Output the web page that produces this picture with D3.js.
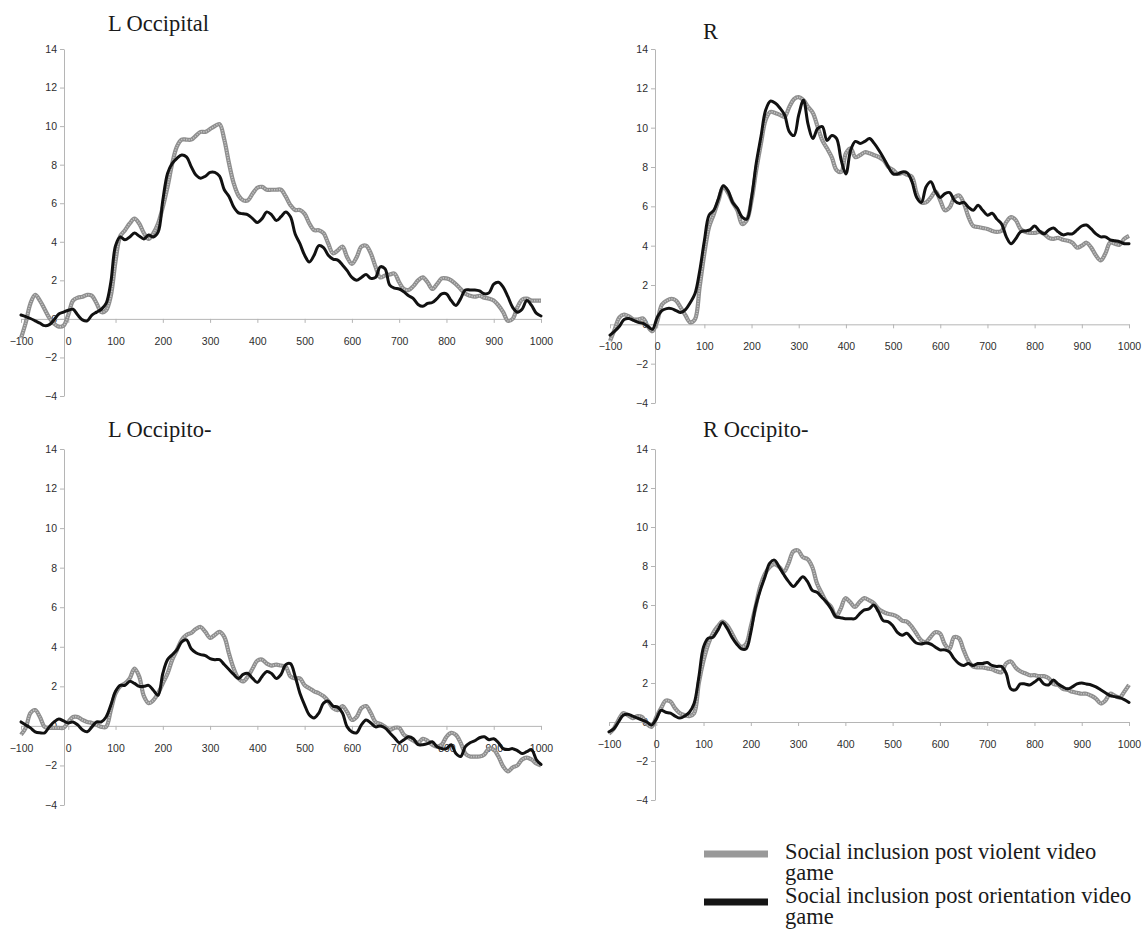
<!DOCTYPE html>
<html>
<head>
<meta charset="utf-8">
<script src="https://cdn.jsdelivr.net/npm/d3@7"></script>
<style>
  body { margin: 0; background: #fff; }
  svg { display: block; }
</style>
</head>
<body>
<svg id="chart" width="1144" height="934"></svg>
<script>
// sample times (ms)
const times = [
  -100, -90, -80, -70, -60, -50, -40, -30, -20, -10,
  0, 10, 20, 30, 40, 50, 60, 70, 80, 90,
  100, 110, 120, 130, 140, 150, 160, 170, 180, 190,
  200, 210, 220, 230, 240, 250, 260, 270, 280, 290,
  300, 310, 320, 330, 340, 350, 360, 370, 380, 390,
  400, 410, 420, 430, 440, 450, 460, 470, 480, 490,
  500, 510, 520, 530, 540, 550, 560, 570, 580, 590,
  600, 610, 620, 630, 640, 650, 660, 670, 680, 690,
  700, 710, 720, 730, 740, 750, 760, 770, 780, 790,
  800, 810, 820, 830, 840, 850, 860, 870, 880, 890,
  900, 910, 920, 930, 940, 950, 960, 970, 980, 990,
  1000
];

const xTicks = [-100, 0, 100, 200, 300, 400, 500, 600, 700, 800, 900, 1000];
const yTicks = [-4, -2, 0, 2, 4, 6, 8, 10, 12, 14];

const panelTitles = ['L Occipital', 'R', 'L Occipito-', 'R Occipito-'];
const legendLines = [
  ['Social inclusion post violent video', 'game'],
  ['Social inclusion post orientation video', 'game']
];

// L Occipital
const lOccViolent = [
  -1.0, -0.2, 0.8, 1.25, 0.95, 0.5, 0.05, -0.25, -0.4, -0.35,
  0.2, 0.95, 1.1, 1.15, 1.25, 1.2, 0.8, 0.35, 0.45, 1.2,
  3.0, 4.3, 4.6, 4.95, 5.2, 4.95, 4.45, 4.15, 4.45, 4.95,
  5.8, 6.85, 8.07, 8.95, 9.3, 9.3, 9.3, 9.5, 9.7, 9.7,
  9.85, 10.0, 10.1, 9.3, 8.07, 7.03, 6.4, 6.15, 6.15, 6.5,
  6.8, 6.85, 6.7, 6.7, 6.7, 6.7, 6.35, 5.9, 5.65, 5.65,
  5.45, 4.95, 4.6, 4.6, 4.45, 3.9, 3.4, 3.55, 3.75, 3.2,
  2.85, 3.2, 3.75, 3.8, 3.4, 2.7, 2.15, 2.25, 2.3, 2.35,
  1.9, 1.55, 1.5, 1.7, 2.0, 2.15, 1.9, 1.55, 1.8, 2.1,
  2.1, 2.0, 1.8, 1.55, 1.3, 1.2, 1.15, 1.2, 1.1, 1.05,
  0.95, 0.7, 0.35, -0.1, 0.0, 0.6, 1.0, 1.05, 0.95, 0.95,
  0.95
];
const lOccOrientation = [
  0.2, 0.12, 0.02, -0.1, -0.22, -0.35, -0.3, -0.05, 0.25, 0.35,
  0.45, 0.5, 0.2, -0.05, -0.1, 0.2, 0.35, 0.5, 0.8, 1.9,
  3.8, 4.25, 4.1, 4.25, 4.45, 4.3, 4.15, 4.35, 4.25, 4.5,
  6.15, 7.55, 8.07, 8.33, 8.5, 8.4, 7.9, 7.46, 7.3, 7.4,
  7.6, 7.6, 7.4, 6.7, 6.35, 5.8, 5.5, 5.45, 5.4, 5.2,
  5.0, 5.2, 5.55, 5.4, 5.1, 5.3, 5.55, 5.3, 4.4, 3.9,
  3.3, 2.95, 3.3, 3.8, 3.7, 3.3, 3.1, 3.05, 2.8, 2.5,
  2.15, 2.0, 2.15, 2.3, 2.1, 2.15, 2.7, 2.6, 1.75, 1.6,
  1.55, 1.4, 1.2, 1.05, 0.75, 0.65, 0.8, 0.85, 1.05, 1.3,
  1.3, 0.95, 0.7, 1.05, 1.5, 1.5, 1.5, 1.45, 1.3, 1.35,
  1.8, 1.9, 1.65, 1.15, 0.6, 0.35, 0.5, 0.95, 0.7, 0.3,
  0.15
];

// R
const rViolent = [
  -0.85, -0.25, 0.35, 0.5, 0.4, 0.25, 0.25, 0.3, -0.1, -0.35,
  0.15, 1.0, 1.2, 1.3, 1.2, 0.85, 0.45, 0.1, 0.25, 1.9,
  3.6, 4.95, 5.6, 6.3, 7.0, 6.7, 6.2, 5.8, 5.1, 5.3,
  6.3, 7.85, 9.2, 10.4, 10.8, 10.75, 10.65, 10.55, 11.05, 11.45,
  11.55, 11.4, 11.05, 10.75, 10.05, 9.35, 8.95, 8.5, 7.85, 7.75,
  8.7, 8.95, 8.5, 8.6, 8.75, 8.7, 8.6, 8.5, 8.35, 8.0,
  7.85, 7.65, 7.7, 7.6, 7.5, 6.65, 6.2, 6.2, 6.45, 6.75,
  6.3, 5.8, 5.95, 6.45, 6.55, 6.15, 5.45, 5.0, 4.95, 4.9,
  4.85, 4.75, 4.7, 4.75, 5.2, 5.45, 5.3, 4.85, 4.7, 4.65,
  4.65, 4.7, 4.6, 4.4, 4.35, 4.4, 4.3, 4.25, 4.15, 3.9,
  4.0, 4.15, 3.9, 3.5, 3.25, 3.6, 4.15, 4.1, 4.05, 4.35,
  4.5
];
const rOrientation = [
  -0.55, -0.35, -0.1, 0.25, 0.3, 0.2, 0.1, 0.05, -0.1, -0.25,
  0.35, 0.7, 0.8, 0.8, 0.7, 0.6, 0.75, 1.1, 1.55, 2.7,
  4.25, 5.55, 5.8, 6.4, 7.05, 6.8, 6.2, 5.9, 5.45, 5.35,
  6.45, 8.2, 9.55, 10.9, 11.35, 11.25, 11.0, 10.65, 9.8, 9.6,
  10.65, 11.4, 10.15, 9.45, 9.95, 10.05, 9.35, 9.6, 9.45, 8.35,
  7.65, 8.85, 9.3, 9.2, 9.3, 9.45, 9.2, 8.85, 8.45, 8.0,
  7.65, 7.65, 7.75, 7.7, 7.25, 6.45, 6.2, 7.0, 7.25, 6.75,
  6.45, 6.65, 6.7, 6.3, 6.15, 6.2, 5.95, 5.8, 6.05, 5.8,
  5.55, 5.65, 5.35, 5.1, 4.45, 4.1, 4.35, 4.7, 4.75, 4.8,
  5.0, 4.75, 4.6, 4.8, 4.9, 4.7, 4.55, 4.6, 4.6, 4.8,
  5.0, 5.05, 4.85, 4.6, 4.45, 4.45, 4.3, 4.25, 4.2, 4.1,
  4.1
];

// L Occipito-
const lOccitoViolent = [
  -0.45, -0.1, 0.65, 0.8, 0.45, -0.05, -0.1, -0.1, -0.1, -0.1,
  0.2, 0.45, 0.45, 0.3, 0.2, 0.15, 0.05, -0.05, -0.05, 0.8,
  1.65, 2.0, 2.15, 2.4, 2.9, 2.5, 1.5, 1.15, 1.3, 1.65,
  2.15, 2.65, 3.35, 3.85, 4.35, 4.6, 4.7, 4.9, 5.0, 4.75,
  4.45, 4.6, 4.75, 4.5, 3.65, 2.9, 2.4, 2.25, 2.5, 2.9,
  3.3, 3.35, 3.15, 3.05, 3.1, 3.05, 3.0, 2.5, 2.4, 2.4,
  2.05, 1.9, 1.75, 1.65, 1.5, 1.25, 0.9, 0.8, 1.0, 0.7,
  0.3, 0.45, 0.9, 1.0, 0.65, 0.2, 0.1, -0.05, -0.2, -0.1,
  -0.1, -0.45, -0.6, -0.75, -0.85, -0.65, -0.75, -0.95, -1.05, -0.95,
  -0.55, -0.35, -0.45, -0.85, -1.4, -1.55, -1.55, -1.55, -1.45, -1.15,
  -1.2, -1.55, -2.05, -2.3, -2.1, -2.0, -1.7, -1.6, -1.7, -1.9,
  -2.0
];
const lOccitoOrientation = [
  0.2, 0.05, -0.1, -0.3, -0.35, -0.35, -0.05, 0.2, 0.35, 0.25,
  0.15, 0.2, 0.05, -0.2, -0.3, -0.05, 0.2, 0.2, 0.45, 1.05,
  1.75, 2.05, 2.05, 2.25, 2.15, 2.0, 2.0, 2.05, 1.8, 1.55,
  2.65, 3.35, 3.6, 3.85, 4.25, 4.35, 3.9, 3.7, 3.6, 3.55,
  3.4, 3.35, 3.35, 3.1, 2.85, 2.6, 2.4, 2.6, 2.65, 2.4,
  2.2, 2.5, 2.75, 2.65, 2.4, 2.6, 3.1, 3.15, 2.5, 1.65,
  1.05, 0.55, 0.4, 0.65, 1.15, 1.25, 1.0, 0.95, 0.65, -0.05,
  -0.3, -0.35, 0.05, 0.3, 0.15, -0.05, 0.0, -0.1, -0.35, -0.6,
  -0.85, -0.7, -0.55, -0.65, -0.95, -0.95, -0.9, -0.8, -1.05, -1.15,
  -1.15, -0.95, -1.4, -1.55, -1.05, -0.85, -0.75, -0.6, -0.55, -0.7,
  -0.65, -0.85, -1.15, -1.2, -1.15, -1.25, -1.4, -1.3, -1.2, -1.7,
  -1.95
];

// R Occipito-
const rOccitoViolent = [
  -0.6, -0.35, 0.1, 0.45, 0.35, 0.2, 0.3, 0.25, -0.1, -0.25,
  0.25, 0.7, 1.1, 1.05, 0.7, 0.45, 0.35, 0.3, 0.45, 2.0,
  3.15, 4.0, 4.55, 4.9, 5.15, 4.95, 4.55, 4.1, 3.85, 4.0,
  4.9, 5.9, 6.95, 7.6, 7.95, 8.1, 7.95, 7.7, 8.15, 8.75,
  8.8, 8.45, 8.35, 7.95, 7.1, 6.6, 6.15, 5.9, 5.4, 5.8,
  6.35, 6.15, 5.9, 6.15, 6.35, 6.25, 6.1, 5.8, 5.65, 5.55,
  5.5, 5.4, 5.2, 5.15, 4.9, 4.55, 4.2, 4.1, 4.35, 4.6,
  4.55, 4.0, 3.75, 4.35, 4.3, 3.7, 3.15, 2.85, 2.8, 2.8,
  2.75, 2.7, 2.6, 2.55, 3.0, 3.1, 2.8, 2.6, 2.5, 2.4,
  2.4, 2.35, 2.35, 2.25, 1.95, 1.9, 1.7, 1.65, 1.55, 1.5,
  1.45, 1.45, 1.35, 1.2, 0.95, 1.1, 1.45, 1.35, 1.25, 1.55,
  1.9
];
const rOccitoOrientation = [
  -0.5, -0.35, 0.0, 0.35, 0.4, 0.3, 0.2, 0.1, 0.0, -0.15,
  0.15, 0.6, 0.5, 0.45, 0.3, 0.2, 0.3, 0.5, 0.95, 2.3,
  3.85, 4.3, 4.35, 4.7, 5.1, 4.8, 4.35, 4.0, 3.75, 3.75,
  4.6, 5.9, 6.75, 7.45, 8.15, 8.3, 7.95, 7.55, 7.2, 6.95,
  7.2, 7.45, 7.2, 6.75, 6.65, 6.4, 6.15, 5.8, 5.4, 5.35,
  5.3, 5.3, 5.3, 5.55, 5.75, 5.8, 6.0, 5.65, 5.2, 5.15,
  4.95, 4.6, 4.45, 4.55, 4.3, 4.05, 4.0, 4.05, 4.0, 3.85,
  3.7, 3.7, 3.6, 3.25, 3.0, 2.9, 3.0, 2.9, 3.0, 3.0,
  3.05, 2.9, 2.85, 2.85, 2.5, 1.7, 1.65, 1.95, 1.95, 1.9,
  2.05, 2.2, 1.95, 1.9, 2.15, 1.95, 1.8, 1.7, 1.8, 1.95,
  2.0, 1.95, 1.9, 1.8, 1.65, 1.5, 1.35, 1.3, 1.25, 1.15,
  1.0
];

const violentSeries = [lOccViolent, rViolent, lOccitoViolent, rOccitoViolent];
const orientationSeries = [lOccOrientation, rOrientation, lOccitoOrientation, rOccitoOrientation];

// panel placement on the page
const layout = [
  { x0: 21, x1: 541, yTop: 49, yBot: 396, axisX: 64, titleX: 108, titleY: 31 },
  { x0: 610, x1: 1129, yTop: 49, yBot: 403, axisX: 655, titleX: 703, titleY: 39 },
  { x0: 21, x1: 541, yTop: 449, yBot: 805, axisX: 64, titleX: 108, titleY: 437 },
  { x0: 609, x1: 1129, yTop: 449, yBot: 800, axisX: 655, titleX: 703, titleY: 437 }
];

const grayBase = '#8e8e8e';
const grayDots = '#c6c6c6';
const black = '#111';
const axisColor = '#b5b5b5';
const tickFont = "'Liberation Sans', Arial, sans-serif";
const serifFont = "'Liberation Serif', 'Times New Roman', serif";

const svg = d3.select('#chart');
svg.append('rect').attr('width', 1144).attr('height', 934).attr('fill', '#fff');

layout.forEach((p, i) => {
  const x = d3.scaleLinear().domain([-100, 1000]).range([p.x0, p.x1]);
  const y = d3.scaleLinear().domain([-4, 14]).range([p.yBot, p.yTop]);
  const g = svg.append('g');

  g.append('text')
    .attr('x', p.titleX)
    .attr('y', p.titleY)
    .attr('font-family', serifFont)
    .attr('font-size', 22.5)
    .attr('fill', '#1a1a1a')
    .text(panelTitles[i]);

  const yAxis = g.append('g')
    .attr('transform', `translate(${p.axisX},0)`)
    .call(d3.axisLeft(y).tickValues(yTicks).tickFormat(d3.format('d'))
      .tickSize(4).tickSizeOuter(0).tickPadding(3));

  const xAxis = g.append('g')
    .attr('transform', `translate(0,${y(0)})`)
    .call(d3.axisBottom(x).tickValues(xTicks).tickFormat(d3.format('d'))
      .tickSize(4).tickSizeOuter(0).tickPadding(14.5));

  [yAxis, xAxis].forEach(a => {
    a.select('.domain').attr('stroke', axisColor).attr('stroke-width', 1);
    a.selectAll('.tick line').attr('stroke', axisColor);
    a.selectAll('.tick text')
      .attr('fill', '#2e2e2e')
      .attr('font-family', tickFont)
      .attr('font-size', 10.5);
  });

  const line = d3.line()
    .x((d, k) => x(times[k]))
    .y(d => y(d))
    .curve(d3.curveCatmullRom.alpha(0.5));

  g.append('path')
    .attr('d', line(violentSeries[i]))
    .attr('fill', 'none')
    .attr('stroke', grayBase)
    .attr('stroke-width', 4.2)
    .attr('stroke-linejoin', 'round');
  g.append('path')
    .attr('d', line(violentSeries[i]))
    .attr('fill', 'none')
    .attr('stroke', grayDots)
    .attr('stroke-width', 1.6)
    .attr('stroke-dasharray', '1.2,1.3');

  g.append('path')
    .attr('d', line(orientationSeries[i]))
    .attr('fill', 'none')
    .attr('stroke', black)
    .attr('stroke-width', 3)
    .attr('stroke-linejoin', 'round')
    .attr('stroke-linecap', 'round');
});

// legend
const legendColors = ['#999', '#151515'];
const legendY = [854, 902];
const legendText = [[859, 880], [903, 924]];
const legend = svg.append('g');
legendLines.forEach((lines, i) => {
  legend.append('rect')
    .attr('x', 704).attr('y', legendY[i] - 3.5)
    .attr('width', 64).attr('height', 7)
    .attr('fill', legendColors[i]);
  lines.forEach((t, j) => {
    legend.append('text')
      .attr('x', 785)
      .attr('y', legendText[i][j])
      .attr('font-family', serifFont)
      .attr('font-size', 22.5)
      .attr('fill', '#1a1a1a')
      .text(t);
  });
});
</script>
</body>
</html>
